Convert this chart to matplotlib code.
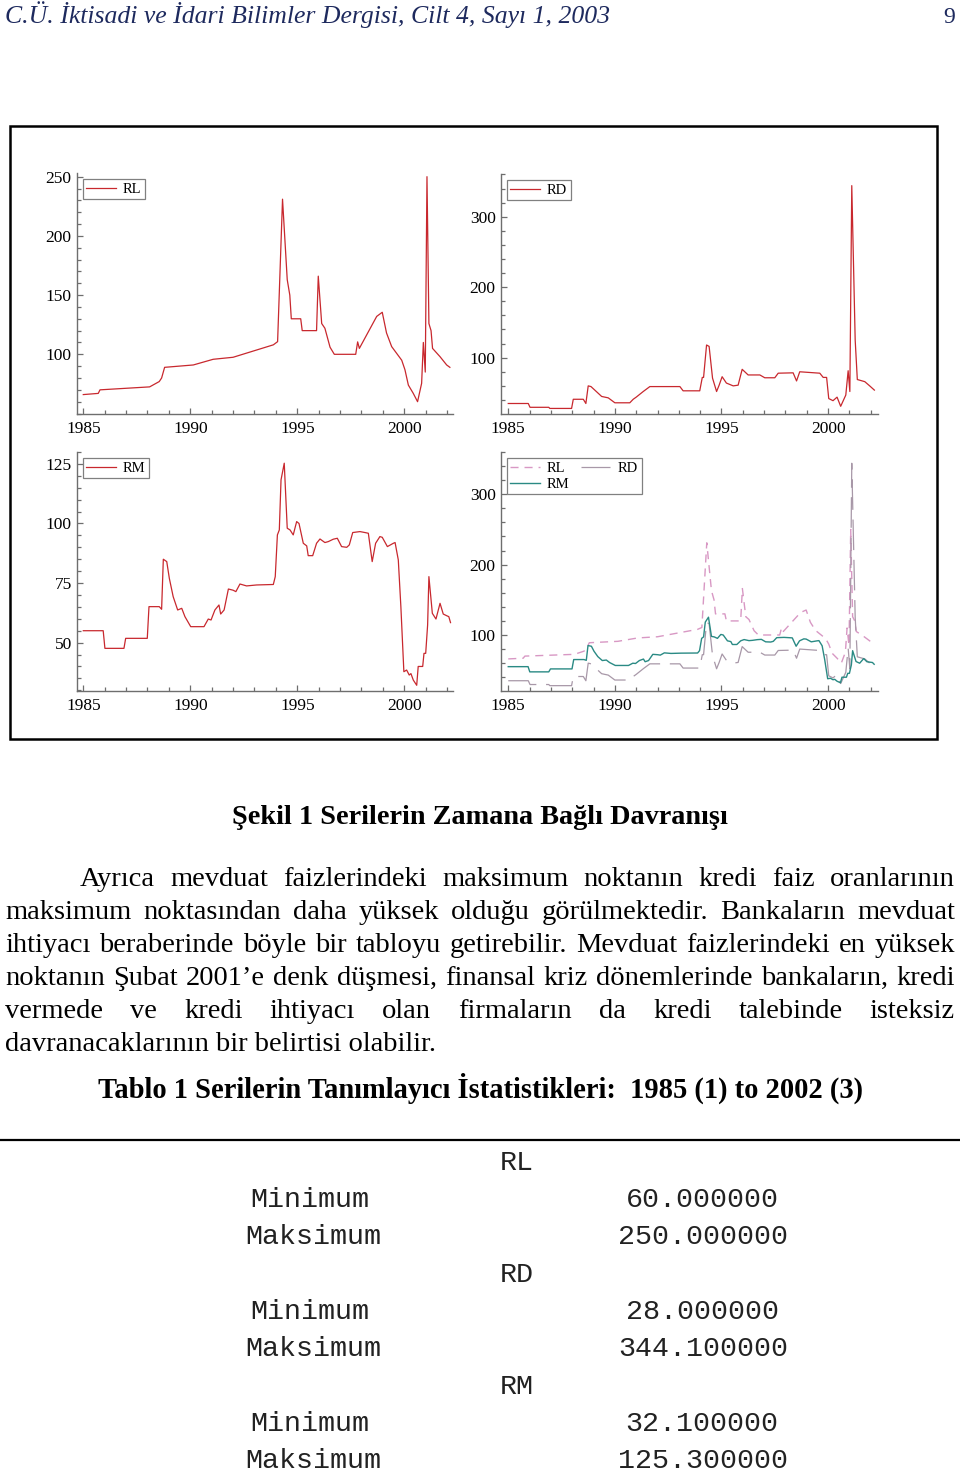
import matplotlib
matplotlib.use("Agg")
import matplotlib.pyplot as plt
from matplotlib.transforms import IdentityTransform
from matplotlib.patches import Rectangle
from matplotlib.lines import Line2D
from matplotlib.ticker import MultipleLocator

# ---- series (decimal year, value) ----
t_rl = [1985.0, 1985.7, 1985.78, 1988.1, 1988.55, 1988.66, 1988.8, 1990.14, 1991.07, 1992.0,
        1993.88, 1994.08, 1994.31, 1994.53, 1994.65, 1994.72, 1995.16, 1995.23, 1995.9, 1995.98,
        1996.14, 1996.29, 1996.53, 1996.73, 1997.73, 1997.82, 1997.9, 1998.71, 1998.97, 1999.17,
        1999.41, 1999.88, 2000.03, 2000.19, 2000.42, 2000.62, 2000.81, 2000.89, 2000.98, 2001.06,
        2001.15, 2001.25, 2001.32, 2001.67, 2001.98, 2002.13]
v_rl = [66, 67, 70, 72.5, 77, 80, 89, 91, 95.8, 97.5,
        108, 110.7, 231, 163, 150, 130, 130, 120, 120, 166,
        126, 122, 106, 100, 100, 110.5, 105, 132, 135.5, 118,
        106.5, 95, 87, 74, 67, 60, 75.5, 110, 85, 250,
        126, 120, 105, 98, 91, 89]

t_rd = [1985.0, 1985.94, 1986.02, 1986.9, 1986.95, 1987.97, 1988.05, 1988.52, 1988.64, 1988.75,
        1988.88, 1989.38, 1989.69, 1990.0, 1990.7, 1990.86, 1991.0, 1991.33, 1991.64, 1993.05,
        1993.2, 1993.98, 1994.1, 1994.16, 1994.3, 1994.42, 1994.58, 1994.77, 1994.89, 1995.03,
        1995.23, 1995.55, 1995.78, 1995.97, 1996.25, 1996.8, 1997.03, 1997.5, 1997.66, 1998.36,
        1998.52, 1998.67, 1999.61, 1999.77, 1999.93, 2000.03, 2000.23, 2000.42, 2000.59, 2000.83,
        2000.94, 2001.02, 2001.11, 2001.27, 2001.37, 2001.72, 2001.95, 2002.17]
v_rd = [35, 35, 29.6, 29.6, 28, 28, 41, 41, 35, 60,
        59, 45, 43, 36, 36, 41, 44, 52, 59, 59,
        53, 53, 72, 72, 118, 116, 71, 52, 61, 73,
        64, 60, 61, 83.5, 75.5, 75.5, 71.5, 71.5, 78, 78.5,
        67, 80, 78, 72, 72, 42, 39, 44, 31, 47,
        81.5, 52, 344.1, 125, 69, 66, 60, 54]

t_rm = [1985.0, 1985.93, 1986.01, 1986.9, 1986.98, 1987.99, 1988.07, 1988.55, 1988.66, 1988.74,
        1988.9, 1989.02, 1989.2, 1989.41, 1989.6, 1989.75, 1990.02, 1990.64, 1990.84, 1990.97,
        1991.15, 1991.34, 1991.42, 1991.58, 1991.78, 1992.0, 1992.13, 1992.32, 1992.63, 1993.1,
        1993.88, 1993.97, 1994.07, 1994.16, 1994.24, 1994.39, 1994.53, 1994.66, 1994.81, 1994.97,
        1995.08, 1995.28, 1995.44, 1995.51, 1995.72, 1995.9, 1996.06, 1996.29, 1996.45, 1996.68,
        1996.87, 1997.07, 1997.31, 1997.43, 1997.59, 1997.93, 1998.16, 1998.32, 1998.5, 1998.66,
        1998.86, 1998.97, 1999.21, 1999.49, 1999.57, 1999.72, 1999.84, 1999.98, 2000.11, 2000.23,
        2000.31, 2000.42, 2000.58, 2000.65, 2000.86, 2000.92, 2001.0, 2001.09, 2001.15, 2001.31,
        2001.48, 2001.67, 2001.82, 2001.98, 2002.08, 2002.16]
v_rm = [55, 55, 47.6, 47.6, 51.8, 51.8, 65.1, 65.1, 64, 85,
        84, 77, 69.3, 63.7, 64.4, 60.9, 56.7, 56.7, 59.9, 59.5,
        63.7, 65.8, 62, 63.7, 72.5, 72, 71.4, 74.6, 73.8, 74.2,
        74.4, 77.7, 95.2, 97.3, 118.3, 125.3, 98, 97.3, 95.2, 100.8,
        100, 91.7, 90.6, 86.5, 86.5, 91.7, 93.5, 92, 92.4, 93.4,
        93.8, 90.3, 90, 91, 96.2, 96.6, 96.2, 95.9, 84, 91.7,
        94.5, 94.2, 90.3, 91.7, 92, 84.7, 65.1, 37.8, 38.5, 36.4,
        37, 34.3, 32.1, 40, 40, 45.5, 45.5, 57.4, 77.7, 62.3,
        59.9, 66.5, 62, 61.3, 60.9, 58.4]

year_ticks = [1985, 1990, 1995, 2000]

header = "C.Ü. İktisadi ve İdari Bilimler Dergisi, Cilt 4, Sayı 1, 2003"
page_no = "9"
caption = "Şekil 1 Serilerin Zamana Bağlı Davranışı"
para_lines = [
    "Ayrıca mevduat faizlerindeki maksimum noktanın kredi faiz oranlarının",
    "maksimum noktasından daha yüksek olduğu görülmektedir. Bankaların mevduat",
    "ihtiyacı beraberinde böyle bir tabloyu getirebilir. Mevduat faizlerindeki en yüksek",
    "noktanın Şubat 2001’e denk düşmesi, finansal kriz dönemlerinde bankaların, kredi",
    "vermede ve kredi ihtiyacı olan firmaların da kredi talebinde isteksiz",
    "davranacaklarının bir belirtisi olabilir.",
]
table_title = "Tablo 1 Serilerin Tanımlayıcı İstatistikleri:  1985 (1) to 2002 (3)"
stat_series = ["RL", "RD", "RM"]
stat_min = ["60.000000", "28.000000", "32.100000"]
stat_max = ["250.000000", "344.100000", "125.300000"]

# ---- page ----
W, H = 960, 1480
plt.rcParams["font.family"] = ["Liberation Serif", "DejaVu Serif"]
plt.rcParams["lines.scale_dashes"] = False

fig = plt.figure(figsize=(W / 100, H / 100), dpi=100)
fig.patch.set_facecolor("white")
R = fig.canvas.get_renderer()
PX = IdentityTransform()


def put(x, y, s, **kw):
    # x, y in page pixels measured from the top-left corner
    return fig.text(x, H - y, s, transform=PX, **kw)


def width_of(s, **kw):
    t = put(0, 0, s, **kw)
    w = t.get_window_extent(R).width
    t.remove()
    return w


def fit(s, target, **kw):
    return 18 * target / width_of(s, fontsize=18, **kw)


def justify(line, y, x0, x1, size):
    words = line.split()
    ws = [width_of(w, fontsize=size) for w in words]
    gap = (x1 - x0 - sum(ws)) / (len(words) - 1)
    x = x0
    for w, wd in zip(words, ws):
        put(x, y, w, fontsize=size, va="baseline")
        x += wd + gap


def add_axes(l, t, r, b):
    return fig.add_axes([l / W, 1 - b / H, (r - l) / W, (b - t) / H])


def style(ax, xlim, ylim, yticks, yminor):
    ax.set_xlim(*xlim)
    ax.set_ylim(*ylim)
    ax.patch.set_alpha(0)
    for s in ["top", "right"]:
        ax.spines[s].set_visible(False)
    for s in ["left", "bottom"]:
        ax.spines[s].set_color("#6e6e6e")
        ax.spines[s].set_linewidth(1.0)
    ax.set_xticks(year_ticks)
    ax.xaxis.set_minor_locator(MultipleLocator(1))
    ax.set_yticks(yticks)
    ax.yaxis.set_minor_locator(MultipleLocator(yminor))
    ax.tick_params(which="both", direction="in", color="#6e6e6e", width=0.9,
                   labelsize=12.5, labelcolor="black")
    ax.tick_params(which="major", length=4.5)
    ax.tick_params(which="minor", length=3)
    ax.tick_params(axis="x", which="major", pad=5)
    ax.tick_params(axis="y", which="major", pad=3.8)


def legend(ax, **kw):
    lg = ax.legend(loc="upper left", fontsize=10.5, frameon=True, fancybox=False,
                   edgecolor="#808080", framealpha=1, borderaxespad=0.4,
                   borderpad=0.25, handlelength=2.0, handletextpad=0.5,
                   labelspacing=0.2, **kw)
    lg.get_frame().set_linewidth(0.9)
    return lg


RED = "#c8282e"

ax1 = add_axes(77, 173, 453, 414)
ax1.plot(t_rl, v_rl, color=RED, lw=0.9, label="RL")
style(ax1, (1984.706, 2002.276), (49.6, 253.1), [100, 150, 200, 250], 10)
legend(ax1)

ax2 = add_axes(501, 174, 878, 414)
ax2.plot(t_rd, v_rd, color=RED, lw=0.9, label="RD")
style(ax2, (1984.66, 2002.34), (20.1, 360.6), [100, 200, 300], 20)
legend(ax2)

ax3 = add_axes(77, 452, 453, 691)
ax3.plot(t_rm, v_rm, color=RED, lw=0.9, label="RM")
style(ax3, (1984.706, 2002.276), (29.7, 130.0), [50, 75, 100, 125], 5)
legend(ax3)

ax4 = add_axes(501, 452, 878, 691)
h_rl, = ax4.plot(t_rl, v_rl, color="#d898c4", lw=1.0, dashes=(5.8, 4.3), label="RL")
h_rd, = ax4.plot(t_rd, v_rd, color="#a898a8", lw=0.9, dashes=(22, 7), label="RD")
h_rm, = ax4.plot(t_rm, v_rm, color="#2a8a84", lw=1.0, label="RM")
style(ax4, (1984.66, 2002.34), (20.4, 360.1), [100, 200, 300], 20)
legend(ax4, handles=[h_rl, h_rm, h_rd], ncol=2, columnspacing=0.8)

# frame around the figure block
fig.add_artist(Rectangle((10, H - 739), 927, 613, transform=PX, fill=False,
                         edgecolor="black", lw=1.8))

# ---- page text ----
put(5, 23, header, fontsize=fit(header, 605, style="italic"), style="italic",
    color="#1e2a5e", va="baseline")
put(955, 23, page_no, fontsize=17, color="#1e2a5e", ha="right", va="baseline")

put(480, 824, caption, fontsize=fit(caption, 496, weight="bold"), weight="bold",
    ha="center", va="baseline")

psize = fit(para_lines[-1], 432)
base = 886
for i, line in enumerate(para_lines):
    y = base + 33 * i
    if i == len(para_lines) - 1:
        put(5, y, line, fontsize=psize, va="baseline")
    else:
        justify(line, y, 80 if i == 0 else 5, 955, psize)

put(480, 1098, table_title, fontsize=fit(table_title, 765, weight="bold"), weight="bold",
    ha="center", va="baseline")

fig.add_artist(Line2D([0, W], [H - 1140, H - 1140], transform=PX, color="black", lw=1.6))

mono = dict(family="Liberation Mono", fontsize=20.4, color="#222222", va="center", ha="center")
row = 1163
for name, mn, mx in zip(stat_series, stat_min, stat_max):
    put(517, row, name, **mono)
    put(310, row + 37, "Minimum", **mono)
    put(702, row + 37, mn, **mono)
    put(313, row + 74, "Maksimum", **mono)
    put(703, row + 74, mx, **mono)
    row += 112

fig.savefig("out.png", dpi=100, facecolor="white")
